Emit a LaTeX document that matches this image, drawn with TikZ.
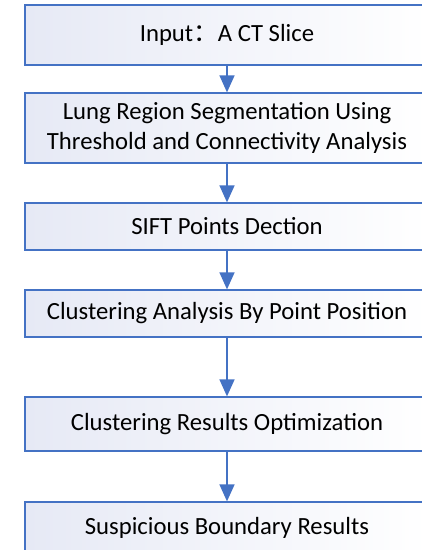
\documentclass[tikz,border=0pt]{standalone}
\usepackage{fontspec}
\setmainfont{Carlito}
\newfontfamily\cjk{Noto Sans CJK SC}
\usetikzlibrary{arrows.meta}
\definecolor{boxblue}{RGB}{68,114,196}
\definecolor{boxfill}{RGB}{230,233,245}
\tikzstyle{stage}=[rectangle, draw=boxblue, line width=1.3pt, left color=boxfill, right color=white, minimum width=404pt, inner sep=0, align=center, font=\fontsize{24.7}{30}\selectfont]
\tikzstyle{arrow}=[boxblue, line width=1.5pt, -{Triangle[width=15pt,length=17pt]}]

\begin{document}
\begin{tikzpicture}[x=1pt,y=-1pt]
\useasboundingbox (0,0) rectangle (422,550);

\node[stage, minimum height=60pt] (input) at (227,35) {Input{\cjk ：}A CT Slice};
\node[stage, minimum height=70pt] (lung) at (227,128) {Lung Region Segmentation Using\\Threshold and Connectivity Analysis};
\node[stage, minimum height=47pt] (sift) at (227,226.5) {SIFT Points Dection};
\node[stage, minimum height=47pt] (cluster) at (227,313.5) {Clustering Analysis By Point Position};
\node[stage, minimum height=54pt] (optim) at (227,424) {Clustering Results Optimization};
\node[stage, minimum height=52pt] (result) at (227,528) {Suspicious Boundary Results};

\draw[arrow] (input) -- (lung);
\draw[arrow] (lung) -- (sift);
\draw[arrow] (sift) -- (cluster);
\draw[arrow] (cluster) -- (optim);
\draw[arrow] (optim) -- (result);
\end{tikzpicture}
\end{document}
